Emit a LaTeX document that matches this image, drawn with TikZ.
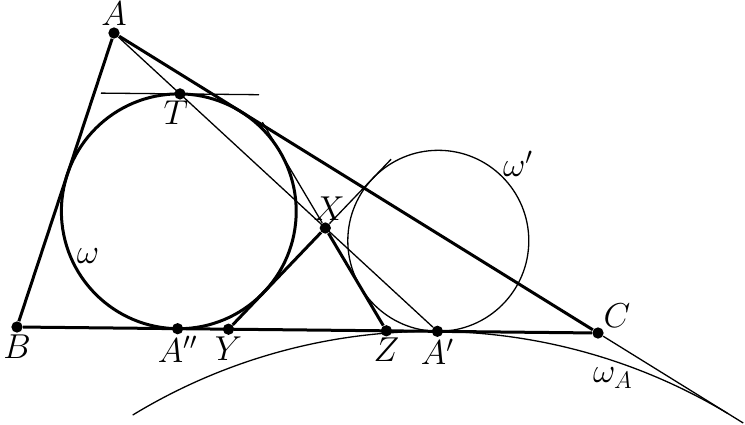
\documentclass[tikz,border=0pt]{standalone}
\usepackage{tikz}
\usetikzlibrary{calc}
\usetikzlibrary{positioning}
\tikzset{
heavy/.style={line width=1.5pt},
light/.style={line width=0.65pt},
vertex/.style 2 args={circle,fill,inner sep=2pt,label={#1:#2}},
every label/.style={font=\fontsize{17}{20}\selectfont,inner sep=0.5pt},
tag/.style={font=\fontsize{17}{20}\selectfont,inner sep=0pt},
}
\def\thickness{heavy}
\def\thinness{light}

\begin{document}
\begin{tikzpicture}[x=0.5pt,y=-0.5pt]
\useasboundingbox (0,0) rectangle (745,424);
%Place the points
\node[vertex={above}{$A$}] (A) at (114,33) {};
\node[vertex={below}{$B$}] (B) at (17,327) {};
\node[vertex={above right}{$C$}] (C) at (598,333) {};
\node[vertex={below}{$A''$}] (App) at (177.6,328.7) {};
\node[vertex={below}{$A'$}] (Ap) at (437.4,331.3) {};
\node[vertex={[xshift=-2pt]below}{$T$}] (T) at (180.0,93.9) {};
\node[vertex={[xshift=2pt]above}{$X$}] (X) at (325.3,228.0) {};
\node[vertex={below}{$Y$}] (Y) at (228.5,329.2) {};
\node[vertex={below}{$Z$}] (Z) at (386.4,330.8) {};

%centres of the circles
\coordinate (I) at (178.8,211.3);
\coordinate (O) at (438.3,240.8);
\coordinate (OA) at (431.5,906.5);

%
\draw[\thickness] (I) circle[radius=58.7pt];
\draw[\thinness] (O) circle[radius=45.25pt];
\draw[\thinness] ($(OA)+(121.3:287.6pt)$) arc[start angle=121.3, end angle=59, radius=287.6pt];

%
\draw[\thickness] (A) -- (B) -- (C) -- (A);
\draw[\thinness] (C) -- ($(A)!1.3!(C)$);

%
\draw[\thickness] (Y) -- (X) -- (Z);
\draw[\thinness] (X) -- ($(X)!-1.03!(Z)$);
\draw[\thinness] (X) -- ($(X)!-0.68!(Y)$);
\draw[\thinness] (A) -- (Ap);
\draw[\thinness] ($(T)+(-79,-0.8)$) -- ($(T)+(79,0.8)$);

\node[tag] (w) at (88,256) {$\omega$};
\node[tag] (wp) at (518,164) {$\omega'$};
\node[tag] (wA) at (613,378) {$\omega_A$};

\end{tikzpicture}
\end{document}
